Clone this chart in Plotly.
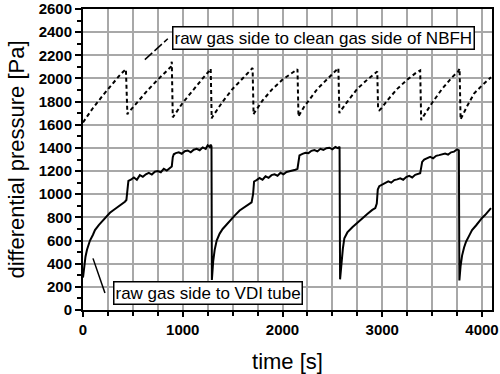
import plotly.graph_objects as go

# ---- data: raw gas side to VDI tube (solid) ----
vdi_t = [0, 10, 25, 40, 70, 100, 120, 160, 200, 240, 270, 300, 340, 370, 400, 420, 435,
         445, 455, 480, 510, 540, 570, 600, 630, 660, 690, 720, 750, 780, 810, 840, 870, 890,
         900, 910, 930, 960, 990, 1020, 1050, 1080, 1110, 1140, 1170, 1200, 1230, 1250, 1270, 1280, 1288,
         1292, 1305, 1320, 1340, 1370, 1400, 1440, 1480, 1520, 1570, 1610, 1650, 1690, 1705,
         1715, 1740, 1770, 1800, 1830, 1860, 1890, 1920, 1950, 1980, 2010, 2040, 2070, 2100, 2130, 2150,
         2160, 2170, 2200, 2230, 2260, 2290, 2320, 2350, 2380, 2410, 2440, 2470, 2500, 2530, 2555, 2572,
         2577, 2590, 2605, 2620, 2650, 2700, 2750, 2800, 2850, 2900, 2930, 2945,
         2955, 2970, 3000, 3030, 3060, 3090, 3120, 3150, 3180, 3210, 3240, 3270, 3300, 3330, 3360, 3380,
         3390, 3400, 3420, 3450, 3480, 3510, 3540, 3570, 3600, 3630, 3660, 3690, 3720, 3750, 3768,
         3773, 3785, 3800, 3820, 3840, 3870, 3900, 3940, 3970, 4000, 4030, 4060, 4090]
vdi_p = [280, 380, 460, 520, 600, 650, 690, 735, 775, 810, 840, 860, 885, 905, 920, 935, 950,
         1080, 1115, 1125, 1145, 1125, 1165, 1150, 1172, 1185, 1170, 1195, 1200, 1190, 1220, 1205, 1228, 1240,
         1320, 1345, 1355, 1362, 1350, 1372, 1378, 1362, 1385, 1392, 1380, 1405, 1392, 1422, 1408, 1428, 1415,
         260, 420, 520, 600, 660, 700, 740, 780, 815, 860, 885, 905, 930, 1000,
         1110, 1122, 1140, 1125, 1155, 1142, 1165, 1172, 1160, 1185, 1172, 1192, 1198, 1202, 1212, 1220,
         1290, 1335, 1348, 1358, 1355, 1375, 1382, 1370, 1392, 1382, 1398, 1402, 1388, 1408, 1398, 1410,
         265, 420, 530, 620, 670, 715, 755, 790, 830, 865, 880, 920,
         1040, 1070, 1085, 1102, 1112, 1100, 1122, 1128, 1138, 1125, 1148, 1158, 1145, 1168, 1178, 1182,
         1230, 1280, 1300, 1312, 1322, 1310, 1332, 1338, 1342, 1352, 1342, 1362, 1368, 1388, 1380,
         255, 380, 470, 540, 590, 640, 690, 730, 765, 795, 820, 850, 880]

# ---- data: raw gas side to clean gas side of NBFH (dashed) ----
nbfh_t = [0, 100, 200, 300, 380, 430, 445,
          450, 550, 650, 750, 830, 880, 890, 900,
          905, 1000, 1100, 1200, 1260, 1280, 1290,
          1295, 1400, 1500, 1600, 1670, 1700, 1710,
          1715, 1800, 1900, 2000, 2100, 2150, 2160,
          2165, 2220, 2350, 2490, 2560, 2570,
          2575, 2650, 2750, 2850, 2920, 2950, 2958, 2970, 2985,
          3050, 3150, 3250, 3340, 3380, 3390,
          3395, 3500, 3600, 3700, 3760, 3775, 3785,
          3790, 3850, 3920, 4000, 4090]
nbfh_p = [1620, 1745, 1855, 1960, 2040, 2080, 1690,
          1700, 1800, 1900, 1990, 2060, 2100, 2145, 1665,
          1670, 1790, 1900, 2000, 2060, 2085, 1655,
          1665, 1800, 1910, 2000, 2060, 2090, 1690,
          1700, 1810, 1910, 1990, 2050, 2080, 1670,
          1680, 1760, 1910, 2030, 2090, 1700,
          1710, 1800, 1910, 1990, 2045, 2060, 1740, 1725, 1735,
          1810, 1910, 1990, 2050, 2070, 1640,
          1650, 1790, 1910, 2010, 2060, 2085, 1645,
          1655, 1760, 1870, 1940, 2010]

x_ticks = [0, 1000, 2000, 3000, 4000]
y_ticks = list(range(0, 2601, 200))

FONT = "Liberation Sans, Arial, sans-serif"
GRID = "#a8a8a8"

fig = go.Figure()
fig.add_trace(go.Scatter(x=nbfh_t, y=nbfh_p, mode="lines",
                         line=dict(color="black", width=2, dash="4px,3px"),
                         showlegend=False))
fig.add_trace(go.Scatter(x=vdi_t, y=vdi_p, mode="lines",
                         line=dict(color="black", width=2),
                         showlegend=False))

fig.update_layout(
    width=500, height=374,
    margin=dict(l=83, r=8, t=9, b=64),
    paper_bgcolor="white", plot_bgcolor="white",
    font=dict(family=FONT, color="black"),
    xaxis=dict(
        range=[0, 4100], tickvals=x_ticks, ticktext=[str(v) for v in x_ticks],
        ticks="outside", ticklen=5, tickwidth=1.5, tickcolor="black",
        tickfont=dict(size=15, weight="bold", family=FONT),
        ticklabeloverflow="allow",
        showline=True, linecolor="black", linewidth=2, mirror=True,
        showgrid=True, gridcolor=GRID, gridwidth=1.5,
        minor=dict(dtick=250, tick0=0, ticks="outside", ticklen=4, tickcolor="black",
                   showgrid=True, gridcolor=GRID, gridwidth=1.5),
        zeroline=False, automargin=False,
        title=dict(text="time [s]", font=dict(size=22, family=FONT), standoff=19),
    ),
    yaxis=dict(
        range=[0, 2600], tickvals=y_ticks, ticktext=[str(v) for v in y_ticks],
        ticks="outside", ticklen=6, tickwidth=1.5, tickcolor="black",
        tickfont=dict(size=15, weight="bold", family=FONT),
        ticklabeloverflow="allow",
        showline=True, linecolor="black", linewidth=2, mirror=True,
        showgrid=True, gridcolor=GRID, gridwidth=1.5,
        minor=dict(dtick=100, tick0=0, ticks="outside", ticklen=4, tickcolor="black",
                   showgrid=False),
        zeroline=False, automargin=False,
        title=dict(text="differential pressure [Pa]", font=dict(size=22, family=FONT), standoff=8),
    ),
    annotations=[
        dict(x=2415, y=2352, xref="x", yref="y", text="raw gas side to clean gas side of NBFH",
             showarrow=False, font=dict(size=17, family=FONT, color="black"),
             bgcolor="white", bordercolor="black", borderwidth=1.5, borderpad=1),
        dict(x=1255, y=146, xref="x", yref="y", text="raw gas side to VDI tube",
             showarrow=False, font=dict(size=17, family=FONT, color="black"),
             bgcolor="white", bordercolor="black", borderwidth=1.5, borderpad=1),
    ],
    shapes=[
        dict(type="line", xref="x", yref="y", x0=620, y0=2163, x1=850, y1=2343,
             line=dict(color="black", width=1.5, dash="10px,3px")),
        dict(type="line", xref="x", yref="y", x0=100, y0=446, x1=220, y1=146,
             line=dict(color="black", width=1.5)),
    ],
)

fig.write_html("out.html", config={"displayModeBar": False},
               post_script="document.body.style.margin='0';")
